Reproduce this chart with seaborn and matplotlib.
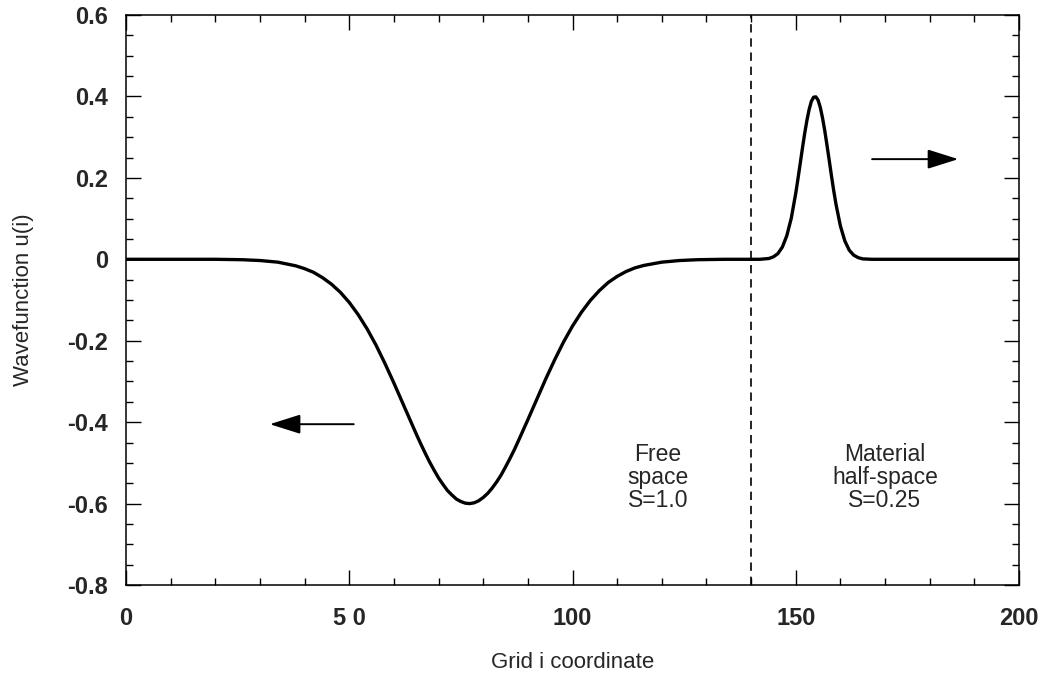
import seaborn as sns
import matplotlib.pyplot as plt
import pandas as pd

# values
grid_i = [0, 10, 20, 26, 30, 34, 38, 40, 42, 44, 46, 48, 50, 52, 54, 56, 58, 60,
          62, 64, 65, 66, 67, 68, 69, 70, 71, 72, 73, 74, 75, 76, 77, 78, 79, 80,
          81, 82, 83, 84, 85, 86, 87, 88, 90, 92, 94, 96,
          98, 100, 102, 104, 106, 108, 110, 112, 114, 116, 120, 124, 128, 134, 140,
          142, 144, 145, 146, 147, 148, 149, 150, 150.5, 151, 151.5, 152, 152.5,
          153, 153.5, 154, 154.5, 155, 155.5, 156, 156.5, 157, 157.5, 158, 158.5,
          159, 160, 161, 162, 163, 164, 165, 167, 180, 200]
wavefunction_u = [0.0, 0.0, 0.0, -0.001, -0.003, -0.007, -0.016, -0.023, -0.032,
                  -0.045, -0.061, -0.081, -0.106, -0.136, -0.171, -0.211, -0.256,
                  -0.304, -0.354, -0.404, -0.429, -0.453, -0.476, -0.498, -0.518,
                  -0.537, -0.553, -0.568, -0.579, -0.589, -0.595, -0.599, -0.600,
                  -0.598, -0.593, -0.585, -0.575, -0.562, -0.547, -0.530, -0.510,
                  -0.489, -0.467, -0.443, -0.394,
                  -0.344, -0.294, -0.247, -0.203, -0.164, -0.130, -0.101, -0.077,
                  -0.057, -0.042, -0.030, -0.021, -0.015, -0.007, -0.003, -0.001,
                  0.0, 0.0,
                  0.0, 0.002, 0.006, 0.014, 0.030, 0.058, 0.101, 0.162, 0.198, 0.235,
                  0.273, 0.309, 0.341, 0.368, 0.388, 0.398, 0.399, 0.391, 0.373,
                  0.347, 0.316, 0.280, 0.243, 0.205, 0.169, 0.136, 0.082, 0.045,
                  0.022, 0.010, 0.004, 0.001, 0.0, 0.0, 0.0]

x_ticks = [0, 50, 100, 150, 200]
x_tick_labels = ["0", "5 0", "100", "150", "200"]
y_ticks = [0.6, 0.4, 0.2, 0, -0.2, -0.4, -0.6, -0.8]
y_tick_labels = ["0.6", "0.4", "0.2", "0", "-0.2", "-0.4", "-0.6", "-0.8"]
interface_i = 140

df = pd.DataFrame({"i": grid_i, "u": wavefunction_u})

sns.set_style("ticks")
plt.rcParams["font.family"] = ["Liberation Sans", "DejaVu Sans"]

fig = plt.figure(figsize=(10.45, 6.82), dpi=100)
ax = fig.add_axes([0.1206, 0.1422, 0.9751 - 0.1206, 0.978 - 0.1422])

sns.lineplot(data=df, x="i", y="u", color="black", linewidth=2.4, ax=ax)
ax.axvline(interface_i, color="black", linewidth=1.2, linestyle=(0, (5, 3.5)))

ax.set_xlim(0, 200)
ax.set_ylim(-0.8, 0.6)
ax.set_xticks(x_ticks)
ax.set_xticklabels(x_tick_labels, fontsize=17, fontweight="bold")
ax.set_yticks(y_ticks)
ax.set_yticklabels(y_tick_labels, fontsize=17, fontweight="bold")
ax.set_xticks(range(0, 201, 10), minor=True)
ax.set_yticks([v / 100 for v in range(-80, 61, 5)], minor=True)
ax.tick_params(which="both", direction="in", top=True, right=True, color="black")
ax.tick_params(which="major", length=11, width=1.0)
ax.tick_params(which="minor", length=5, width=1.0)
ax.tick_params(axis="x", which="major", pad=16)
ax.tick_params(axis="y", which="major", pad=13)
for s in ax.spines.values():
    s.set_linewidth(1.1)
    s.set_color("black")

ax.set_xlabel("Grid i coordinate", fontsize=16, labelpad=16)
ax.set_ylabel("Wavefunction u(i)", fontsize=16, labelpad=24)

arrow = dict(arrowstyle="-|>,head_length=0.95,head_width=0.3", mutation_scale=20,
             color="black", lw=1.4, shrinkA=0, shrinkB=0)
ax.annotate("", xy=(32.2, -0.405), xytext=(51.0, -0.405), arrowprops=arrow)
ax.annotate("", xy=(186.4, 0.246), xytext=(167.1, 0.246), arrowprops=arrow)

ax.text(119.1, -0.536, "Free\nspace\nS=1.0", ha="center", va="center",
        fontsize=16.5, linespacing=1.0)
ax.text(170.0, -0.536, "Material\nhalf-space\nS=0.25", ha="center", va="center",
        fontsize=16.5, linespacing=1.0)

fig.savefig("out.png", dpi=100)
